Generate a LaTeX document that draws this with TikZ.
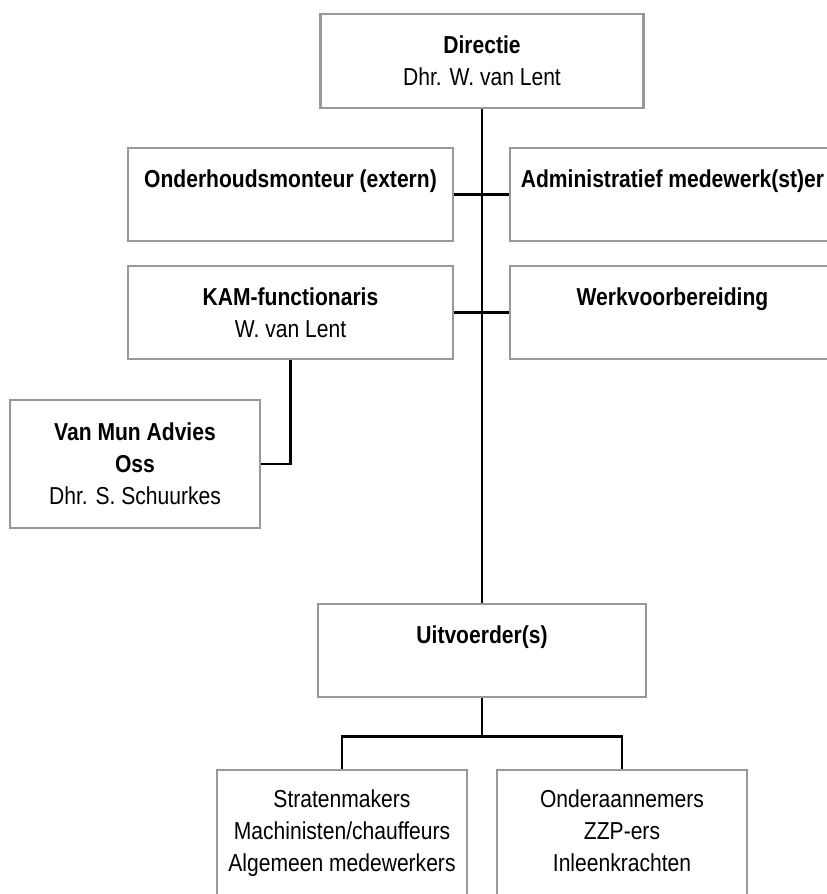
\documentclass[tikz,border=0pt]{standalone}
\usepackage{fontspec}
\setmainfont{Liberation Sans}[FakeStretch=0.86]
\usetikzlibrary{backgrounds}

\definecolor{boxgray}{RGB}{152,152,152}

\begin{document}
\begin{tikzpicture}[x=1pt,y=-1pt,
    orgbox/.style={draw=boxgray, line width=2.8pt, fill=white, align=center,
      inner sep=0pt, font=\fontsize{24.5}{32}\selectfont},
    conn/.style={black, line width=2.8pt}]
    % Frame
    \useasboundingbox (0,0) rectangle (827,894);
    \clip (0,0) rectangle (827,894);

    % Top
    \node[orgbox, minimum width=323, minimum height=94] (dir) at (482,61)
      {\textbf{Directie}\\Dhr. W. van Lent};

    % Staff, first row
    \node[orgbox, minimum width=325, minimum height=93] (onder) at (290.5,194.5)
      {\textbf{Onderhoudsmonteur (extern)}\\\mbox{}};
    \node[orgbox, minimum width=325, minimum height=93] (admin) at (672.5,194.5)
      {\textbf{Administratief medewerk(st)er}\\\mbox{}};

    % Staff, second row
    \node[orgbox, minimum width=325, minimum height=93] (kam) at (290.5,312.5)
      {\textbf{KAM-functionaris}\\W. van Lent};
    \node[orgbox, minimum width=325, minimum height=93] (werk) at (672.5,312.5)
      {\textbf{Werkvoorbereiding}\\\mbox{}};

    % Advisor
    \node[orgbox, minimum width=250, minimum height=128] (vanmun) at (135,464)
      {\textbf{Van Mun Advies}\\\textbf{Oss}\\Dhr. S. Schuurkes};

    % Execution
    \node[orgbox, minimum width=328, minimum height=93] (uitv) at (482,650.5)
      {\textbf{Uitvoerder(s)}\\\mbox{}};

    % Bottom row (cut off by the page)
    \node[orgbox, minimum width=250, minimum height=130] (eigen) at (342,835)
      {Stratenmakers\\Machinisten/chauffeurs\\Algemeen medewerkers\strut};
    \node[orgbox, minimum width=250, minimum height=130] (inhuur) at (622,835)
      {Onderaannemers\\ZZP-ers\\Inleenkrachten\strut};

    % Lines
    \begin{scope}[on background layer]
      \draw[conn] (dir.south) -- (uitv.north);
      \draw[conn] (onder.east) -- (admin.west);
      \draw[conn] (kam.east) -- (werk.west);
      \draw[conn] (kam.south) |- (vanmun.east);
      \draw[conn] (uitv.south) -- ++(0,38) coordinate (split);
      \draw[conn] (eigen.north) |- (split) -| (inhuur.north);
    \end{scope}
  \end{tikzpicture}
\end{document}
